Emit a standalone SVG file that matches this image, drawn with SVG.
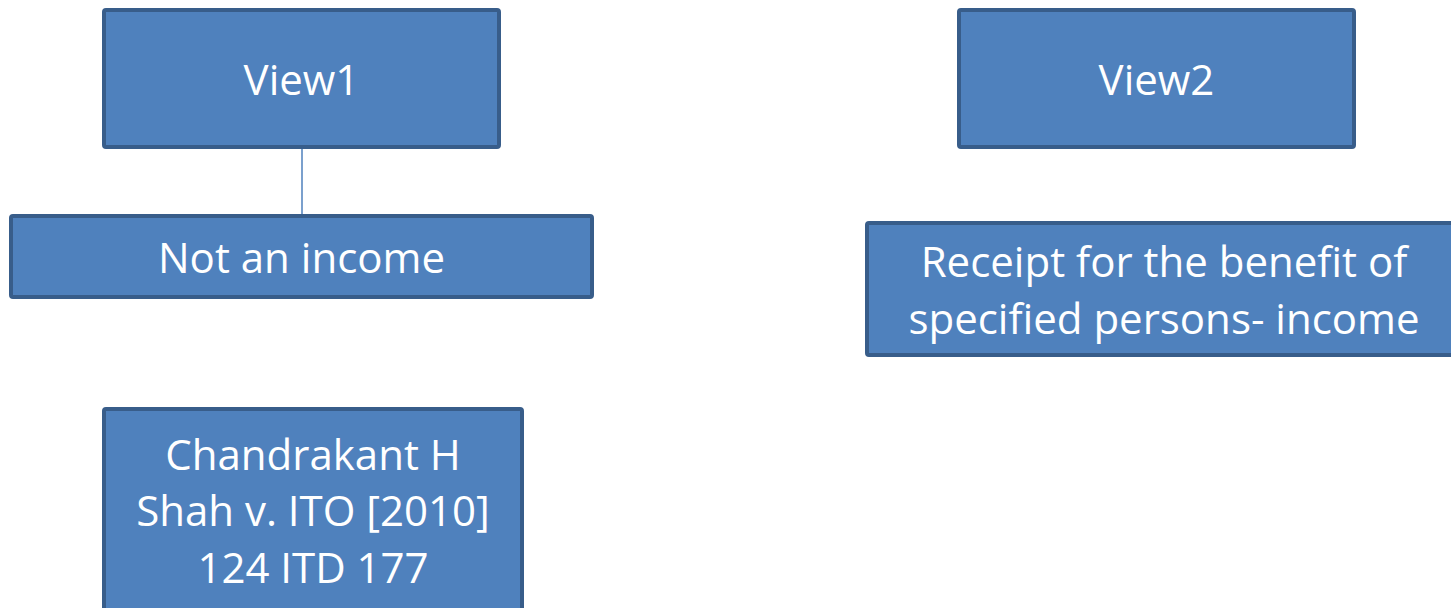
<svg xmlns="http://www.w3.org/2000/svg" width="1451" height="608" viewBox="0 0 1451 608">
  <style>
    .box { fill: #4f81bd; stroke: #385d8a; stroke-width: 4; }
    .lbl { fill: #ffffff; font-family: "Open Sans", "Noto Sans", "Liberation Sans", sans-serif; font-size: 42px; text-anchor: middle; }
    .link { stroke: #4f81bd; stroke-width: 1.5; fill: none; }
  </style>
  <rect width="1451" height="608" fill="#ffffff"/>

  <g id="connectors">
    <line class="link" x1="302" y1="148" x2="302" y2="215"/>
  </g>

  <g id="view1">
    <rect class="box" x="104" y="10" width="395" height="137" rx="2"/>
    <text class="lbl" x="301.5" y="95">View1</text>
  </g>

  <g id="not-income">
    <rect class="box" x="11" y="216" width="581" height="81" rx="2"/>
    <text class="lbl" x="301.5" y="273">Not an income</text>
  </g>

  <g id="view2">
    <rect class="box" x="959" y="10" width="395" height="137" rx="2"/>
    <text class="lbl" x="1156.5" y="95">View2</text>
  </g>

  <g id="receipt">
    <rect class="box" x="867" y="223" width="600" height="132" rx="2"/>
    <text class="lbl" x="1164" y="277">Receipt for the benefit of</text>
    <text class="lbl" x="1164" y="334">specified persons- income</text>
  </g>

  <g id="case">
    <rect class="box" x="104" y="409" width="418" height="220" rx="2"/>
    <text class="lbl" x="313" y="470">Chandrakant H</text>
    <text class="lbl" x="313" y="526">Shah v. ITO [2010]</text>
    <text class="lbl" x="313" y="583">124 ITD 177</text>
  </g>
</svg>
